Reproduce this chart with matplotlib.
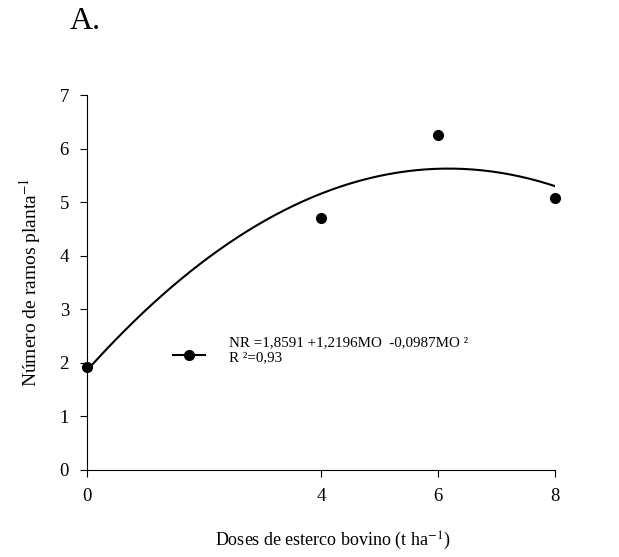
import numpy as np
import matplotlib
matplotlib.use("Agg")
from matplotlib import pyplot as plt

plt.rcParams['font.family'] = ['Liberation Serif', 'DejaVu Serif']
plt.rcParams['mathtext.fontset'] = 'stix'

# observed data
doses = [0, 4, 6, 8]
ramos = [1.93, 4.70, 6.25, 5.07]

# fitted quadratic: NR = b0 + b1*MO + b2*MO^2
coefs = [1.8591, 1.2196, -0.0987]
eq_label = 'NR =1,8591 +1,2196MO  -0,0987MO ²\nR ²=0,93'

x_ticks = [0, 4, 6, 8]
y_ticks = [0, 1, 2, 3, 4, 5, 6, 7]

fig = plt.figure(figsize=(6.19, 5.57), dpi=100)
ax = fig.add_axes([0.1406, 0.1562, 0.7560, 0.6732])

xs = np.linspace(0, 8, 200)
ys = coefs[0] + coefs[1] * xs + coefs[2] * xs ** 2
ax.plot(xs, ys, color='black', lw=1.5, zorder=2)
ax.plot(doses, ramos, 'o', color='black', ms=7, zorder=3, clip_on=False)

# legend drawn by hand, in data coords
ax.plot([1.47, 2.02], [2.15, 2.15], color='black', lw=1.5)
ax.plot([1.75], [2.15], 'o', color='black', ms=7)
ax.text(2.42, 2.24, eq_label, fontsize=10.8, va='center', ha='left', linespacing=1.2)

ax.set_xlim(0, 8)
ax.set_ylim(0, 7)
ax.set_xticks(x_ticks)
ax.set_yticks(y_ticks)
ax.tick_params(direction='out', length=5, width=0.8, labelsize=13.5, pad=8)
ax.spines['top'].set_visible(False)
ax.spines['right'].set_visible(False)

ax.set_xlabel('Doses de esterco bovino (t ha$^{-1}$)', fontsize=13, labelpad=18)
ax.xaxis.label.set_x(0.525)
ax.set_ylabel('Número de ramos planta$^{-1}$', fontsize=14, labelpad=12)

fig.text(0.112, 0.962, 'A.', fontsize=23, ha='left', va='center')

plt.savefig('out.png', dpi=100)
